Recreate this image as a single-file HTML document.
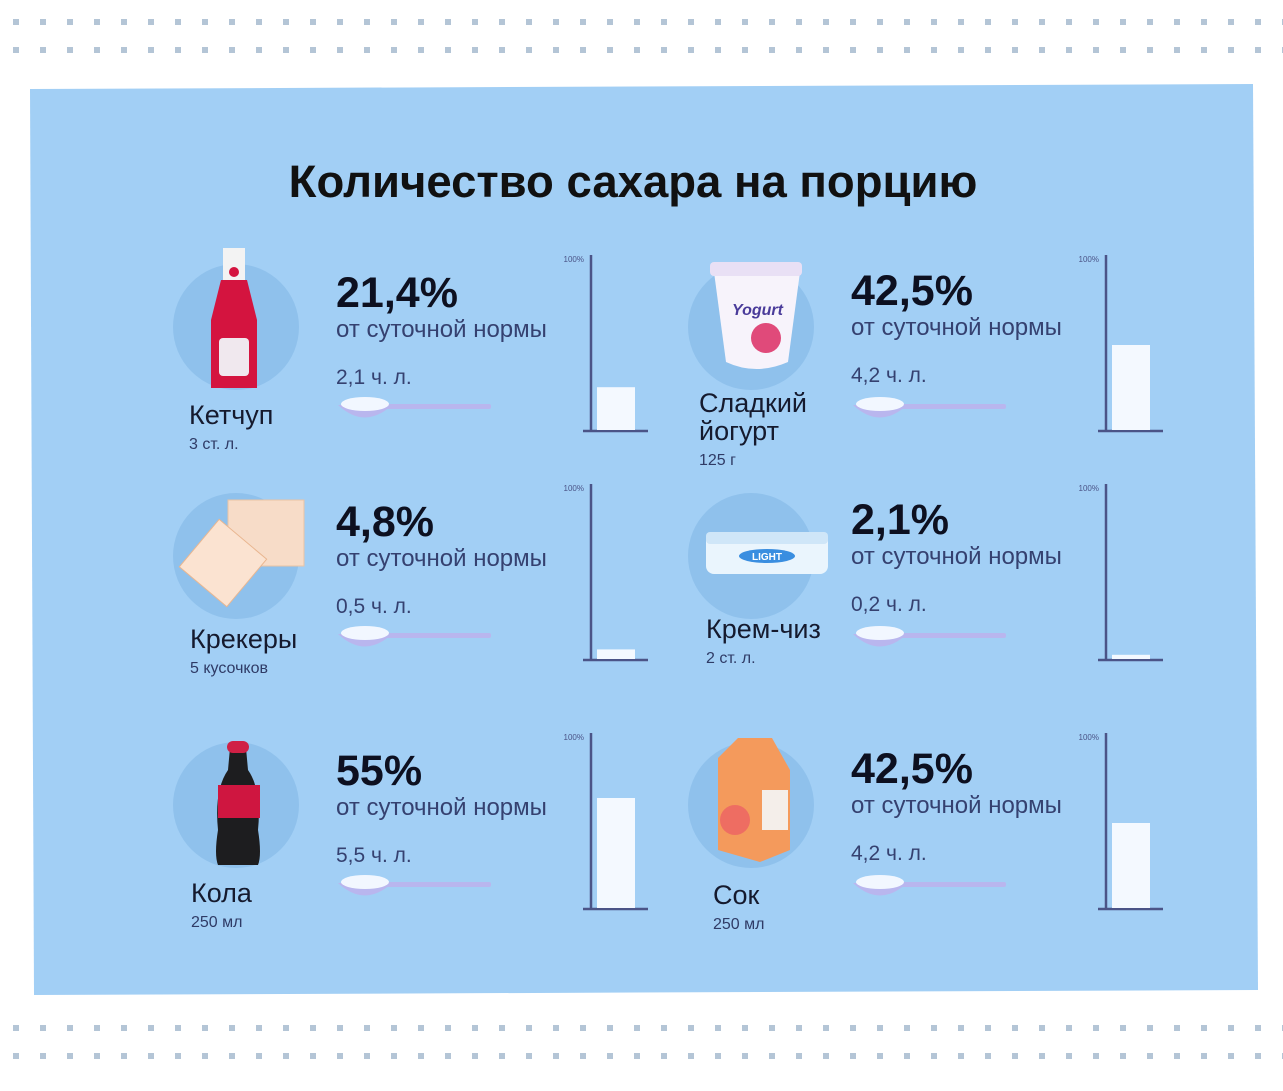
<!DOCTYPE html>
<html><head><meta charset="utf-8"><style>
body{margin:0;width:1283px;height:1091px;background:#fff;overflow:hidden;font-family:"Liberation Sans","DejaVu Sans",sans-serif}
svg{display:block}
svg text{font-family:"Liberation Sans","DejaVu Sans",sans-serif}
</style></head><body>
<svg id="s" width="1283" height="1091">
<g id="dots"></g>
<polygon points="30,89 1253,84 1258,990 34,995" fill="#a2cff5"/>
<text x="633" y="197" text-anchor="middle" font-size="45.5" font-weight="bold" fill="#111">Количество сахара на порцию</text>
<g id="items"></g>
<g id="icons"></g>
</svg>
<script>
const categories=["Кетчуп","Сладкий йогурт","Крекеры","Крем-чиз","Кола","Сок"];
const portions=["3 ст. л.","125 г","5 кусочков","2 ст. л.","250 мл","250 мл"];
const percentValues=[21.4,42.5,4.8,2.1,55,42.5];
const percentLabels=["21,4%","42,5%","4,8%","2,1%","55%","42,5%"];
const spoonLabels=["2,1 ч. л.","4,2 ч. л.","0,5 ч. л.","0,2 ч. л.","5,5 ч. л.","4,2 ч. л."];
const axisLabel="100%";
const NS="http://www.w3.org/2000/svg";
function mk(tag,attrs,parent,txt){const e=document.createElementNS(NS,tag);for(const k in attrs)e.setAttribute(k,attrs[k]);if(txt!==undefined)e.textContent=txt;parent.appendChild(e);return e;}
const dg=document.getElementById('dots');
[22,50,1028,1056].forEach(y=>{for(let x=13;x<1283;x+=27){const r=mk('rect',{x:x,y:y-3,width:6,height:6,fill:'#b4c5d6'},dg);

}});
const ig=document.getElementById('items');
const icg=document.getElementById('icons');
const colX=[0,515];
const rowY=[0,229,478];
const nameY=[424,412,419,409,424,426];
const nameX=[189,184,190,191,191,198];
const barScale=v=>v*2.0;
for(let i=0;i<6;i++){
 const dx=colX[i%2], dy=rowY[Math.floor(i/2)];
 const g=mk('g',{transform:`translate(${dx},${dy})`},ig);
 
 
 const c=mk('circle',{cx:236,cy:327,r:63,fill:'#8fc1ec'},g);
 
 
 const ic=mk('g',{},icg);
 
 
 if(i==0){mk('rect',{x:223,y:248,width:22,height:32,fill:'#f3f3f3'},ic);mk('circle',{cx:234,cy:272,r:5,fill:'#d4143f'},ic);mk('path',{d:'M221,280 L247,280 L257,320 L257,388 L211,388 L211,320 Z',fill:'#d4143f'},ic);mk('rect',{x:219,y:338,width:30,height:38,rx:4,fill:'#f0e8ee'},ic);}
 else if(i==1){mk('path',{d:'M714,272 L800,272 L788,362 Q756,376 726,362 Z',fill:'#f7f3fb'},ic);mk('rect',{x:710,y:262,width:92,height:14,rx:4,fill:'#e9e0f5'},ic);mk('text',{x:732,y:315,'font-size':16,'font-style':'italic','font-weight':'bold',fill:'#4a3b9a'},ic,'Yogurt');mk('circle',{cx:766,cy:338,r:15,fill:'#e04a7a'},ic);}
 else if(i==2){mk('rect',{x:228,y:500,width:76,height:66,fill:'#f7dcc8',stroke:'#e9c3a5'},ic);mk('rect',{x:192,y:532,width:62,height:62,fill:'#fbe3d1',stroke:'#e9b690',transform:'rotate(40 223 563)'},ic);}
 else if(i==3){mk('rect',{x:706,y:532,width:122,height:42,rx:8,fill:'#eaf5fd'},ic);mk('rect',{x:706,y:532,width:122,height:12,rx:4,fill:'#cfe6f8'},ic);mk('ellipse',{cx:767,cy:556,rx:28,ry:7,fill:'#3a8ee0'},ic);mk('text',{x:767,y:560,'font-size':10,'font-weight':'bold','text-anchor':'middle',fill:'#fff'},ic,'LIGHT');}
 else if(i==4){mk('path',{d:'M230,748 L246,748 L248,770 Q262,790 258,830 Q262,855 258,865 L218,865 Q214,855 218,830 Q214,790 228,770 Z',fill:'#1d1d1f'},ic);mk('rect',{x:218,y:785,width:42,height:33,fill:'#cf1640'},ic);mk('rect',{x:227,y:741,width:22,height:12,rx:6,fill:'#d02045'},ic);}
 else {mk('path',{d:'M718,758 L738,738 L772,738 L790,770 L790,850 L760,862 L718,850 Z',fill:'#f49a5c'},ic);mk('rect',{x:762,y:790,width:26,height:40,fill:'#f4eeea'},ic);mk('circle',{cx:735,cy:820,r:15,fill:'#ee6d62'},ic);}
 const nx=nameX[i];
 const parts=categories[i].split(' ');
 let ny=nameY[i];
 parts.forEach((p,k)=>{const t=mk('text',{x:nx,y:nameY[i]+k*28,'font-size':27,fill:'#151a2e'},g,p);
 
 ny=nameY[i]+k*28;});
 const pt=mk('text',{x:nx,y:ny+25,'font-size':16,fill:'#2f3b66'},g,portions[i]);
 
 
 const tx=336, off=i%2?2:0;
 const p1=mk('text',{x:tx,y:307-off,'font-size':43,'font-weight':'bold',fill:'#0d1020'},g,percentLabels[i]);
 
 
 const p2=mk('text',{x:tx,y:337-off,'font-size':24,fill:'#354170'},g,'от суточной нормы');
 
 
 const p3=mk('text',{x:tx,y:384-off,'font-size':21,fill:'#354170'},g,spoonLabels[i]);
 
 
 const sp=mk('g',{},g);
 
 
 mk('rect',{x:385,y:404,width:106,height:5,rx:2,fill:'#b9b6ee'},sp);
 mk('path',{d:'M338,405 Q365,430 392,405 Z',fill:'#b9b6ee'},sp);
 mk('ellipse',{cx:365,cy:404,rx:24,ry:7,fill:'#f2f7ff'},sp);
 const ax=591, base=431, top=255;
 const al=mk('line',{x1:ax,y1:top,x2:ax,y2:base,stroke:'#4b5487','stroke-width':2.5},g);
 
 
 const bl=mk('line',{x1:583,y1:base,x2:648,y2:base,stroke:'#4b5487','stroke-width':2.5},g);
 
 
 const lt=mk('text',{x:584,y:262,'font-size':8,'text-anchor':'end',fill:'#4b5487'},g,axisLabel);
 
 
 const h=barScale(percentValues[i]);
 const b=mk('rect',{x:597,y:base-1-h,width:38,height:h,fill:'#f4f9ff'},g);
 
 
}
</script>
</body></html>
